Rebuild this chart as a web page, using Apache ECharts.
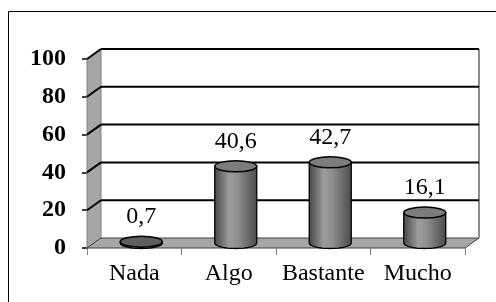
<!DOCTYPE html>
<html>
<head>
<meta charset="utf-8">
<script src="https://cdn.jsdelivr.net/npm/echarts@6/dist/echarts.min.js"></script>
<style>
  html, body { margin: 0; padding: 0; background: #fff; }
  #chartDom { width: 496px; height: 302px; }
</style>
</head>
<body>
<div id="chartDom"></div>
<script>
const categories = ['Nada', 'Algo', 'Bastante', 'Mucho']
const values = [0.7, 40.6, 42.7, 16.1]
const yTicks = [0, 20, 40, 60, 80, 100]

// depth of the fake 3d box
const dx = 14
const dy = -10
const serif = '"Liberation Serif", "Times New Roman", serif'

const canvasChart = echarts.init(document.getElementById('chartDom'))

// walls, floor and back gridlines
function renderFrame (params, api) {
  const cs = params.coordSys
  const left = cs.x
  const right = cs.x + cs.width
  const v = api.value(1)
  const y = api.coord([0, v])[1]
  const children = []
  if (params.dataIndex === 0) {
    const y0 = api.coord([0, 0])[1]
    const yTop = api.coord([0, 100])[1]
    children.push({
      type: 'polygon',
      shape: { points: [[left, y0], [left, yTop], [left + dx, yTop + dy], [left + dx, y0 + dy]] },
      style: { fill: '#a6a6a6', stroke: '#808080', lineWidth: 1 }
    })
    children.push({
      type: 'polygon',
      shape: { points: [[left, y0], [right, y0], [right + dx, y0 + dy], [left + dx, y0 + dy]] },
      style: { fill: '#a6a6a6', stroke: '#404040', lineWidth: 1 }
    })
    children.push({
      type: 'line',
      shape: { x1: right + dx, y1: yTop + dy, x2: right + dx, y2: y0 + dy },
      style: { stroke: '#8c8c8c', lineWidth: 2 }
    })
  } else {
    children.push({
      type: 'line',
      shape: { x1: left + dx, y1: y + dy, x2: right + dx, y2: y + dy },
      style: { stroke: '#000', lineWidth: 2 }
    })
    children.push({
      type: 'line',
      shape: { x1: left, y1: y, x2: left + dx, y2: y + dy },
      style: { stroke: '#000', lineWidth: 2 }
    })
  }
  return { type: 'group', children: children }
}

// cylinders
function renderCylinder (params, api) {
  const idx = api.value(0)
  const val = api.value(1)
  const base = api.coord([idx, 0])
  const top = api.coord([idx, val])
  const cx = base[0] + dx / 2
  const yb = base[1] + dy / 2
  const yt = top[1] + dy / 2
  const rx = 21
  const ry = 5.5
  const pts = [[cx - rx, yt], [cx - rx, yb]]
  for (let i = 1; i < 24; i++) {
    const a = Math.PI - Math.PI * i / 24
    pts.push([cx + rx * Math.cos(a), yb + ry * Math.sin(a)])
  }
  pts.push([cx + rx, yb], [cx + rx, yt])
  return {
    type: 'group',
    children: [
      {
        type: 'polygon',
        shape: { points: pts },
        style: {
          fill: new echarts.graphic.LinearGradient(0, 0, 1, 0, [
            { offset: 0, color: '#454545' },
            { offset: 0.35, color: '#9c9c9c' },
            { offset: 0.55, color: '#8e8e8e' },
            { offset: 1, color: '#4a4a4a' }
          ]),
          stroke: '#000',
          lineWidth: 1.3
        }
      },
      {
        type: 'ellipse',
        shape: { cx: cx, cy: yt, rx: rx, ry: ry },
        style: { fill: val < 2 ? '#5e5e5e' : '#7c7c7c', stroke: '#000', lineWidth: 1.5 }
      },
      {
        type: 'text',
        style: {
          text: String(val).replace('.', ','),
          x: cx,
          y: yt - 25,
          align: 'center',
          verticalAlign: 'middle',
          font: '24px ' + serif,
          fill: '#000'
        }
      }
    ]
  }
}

const option = {
  animation: false,
  graphic: [{
    type: 'rect',
    shape: { x: 8.5, y: 11.5, width: 600, height: 400 },
    style: { fill: 'none', stroke: '#000', lineWidth: 1 },
    z: -10
  }],
  grid: { left: 87, right: 31, top: 59, bottom: 54 },
  xAxis: {
    type: 'category',
    data: categories,
    axisLine: { show: false },
    axisTick: { show: true, length: 7, lineStyle: { color: '#808080' } },
    axisLabel: { interval: 0, margin: 14, fontFamily: serif, fontSize: 24, color: '#000' }
  },
  yAxis: {
    type: 'value',
    min: 0,
    max: 100,
    interval: 20,
    splitLine: { show: false },
    axisLine: { show: true, lineStyle: { color: '#000', width: 1 } },
    axisTick: { show: true, length: 5, lineStyle: { color: '#000', width: 1.5 } },
    axisLabel: { margin: 21, fontFamily: serif, fontSize: 24, fontWeight: 'bold', color: '#000' }
  },
  series: [
    {
      type: 'custom',
      z: 1,
      silent: true,
      renderItem: renderFrame,
      data: yTicks.map(v => [0, v])
    },
    {
      type: 'custom',
      z: 3,
      renderItem: renderCylinder,
      data: values.map((v, i) => [i, v])
    }
  ]
}
canvasChart.setOption(option)
</script>
</body>
</html>
